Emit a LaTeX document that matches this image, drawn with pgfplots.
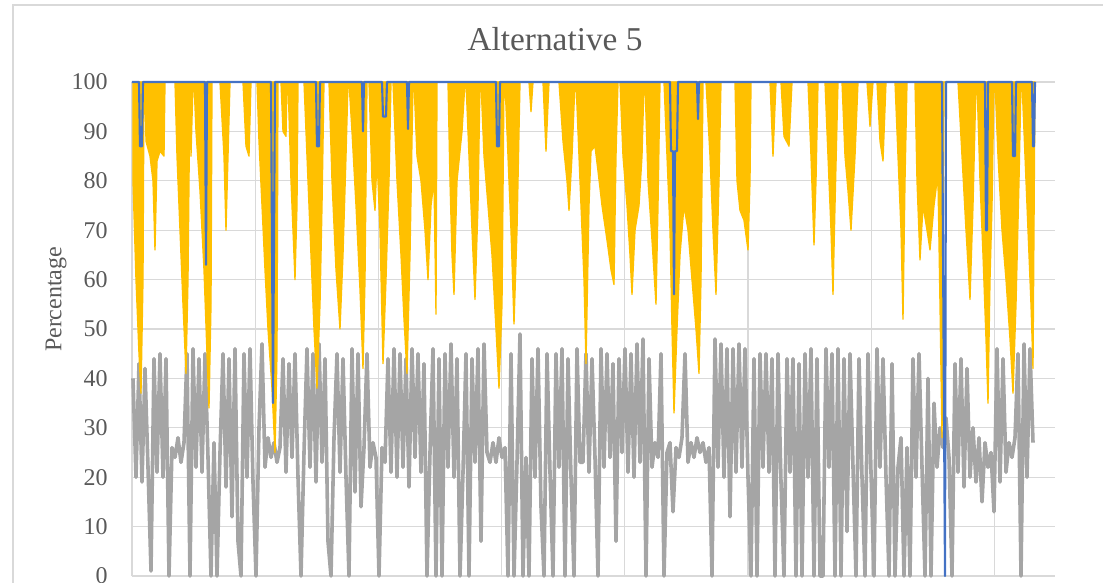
\documentclass[border=0pt]{standalone}
\usepackage{pgfplots}
\pgfplotsset{compat=1.18}
\usepackage{pgfplotstable}
\usepackage{fontspec}
\setmainfont{Liberation Serif}
\definecolor{cblue}{HTML}{4472C4}
\definecolor{cyel}{HTML}{FFC000}
\definecolor{cgray}{HTML}{A5A5A5}
\definecolor{cgrid}{HTML}{D9D9D9}
\definecolor{ctext}{HTML}{595959}

\pgfplotstableread[row sep=\\]{
y\\
40\\ 20\\ 43\\ 19\\ 42\\ 22\\ 1\\ 44\\ 21\\ 45\\
20\\ 44\\ 0\\ 26\\ 24\\ 28\\ 23\\ 27\\ 45\\ 0\\
46\\ 22\\ 44\\ 21\\ 45\\ 24\\ 0\\ 27\\ 0\\ 25\\
45\\ 18\\ 44\\ 12\\ 46\\ 7\\ 0\\ 45\\ 20\\ 46\\
19\\ 0\\ 30\\ 47\\ 22\\ 28\\ 24\\ 27\\ 23\\ 26\\
44\\ 21\\ 43\\ 24\\ 45\\ 20\\ 0\\ 25\\ 46\\ 22\\
45\\ 19\\ 47\\ 23\\ 44\\ 7\\ 0\\ 28\\ 45\\ 21\\
44\\ 20\\ 0\\ 46\\ 17\\ 45\\ 14\\ 26\\ 45\\ 22\\
27\\ 24\\ 0\\ 26\\ 23\\ 44\\ 21\\ 46\\ 20\\ 45\\
22\\ 44\\ 18\\ 46\\ 24\\ 45\\ 21\\ 43\\ 0\\ 25\\
46\\ 0\\ 44\\ 0\\ 45\\ 22\\ 47\\ 20\\ 44\\ 0\\
21\\ 45\\ 0\\ 44\\ 23\\ 46\\ 7\\ 47\\ 25\\ 23\\
27\\ 23\\ 28\\ 24\\ 26\\ 0\\ 45\\ 0\\ 23\\ 49\\
0\\ 24\\ 0\\ 44\\ 20\\ 46\\ 14\\ 0\\ 45\\ 21\\
0\\ 45\\ 22\\ 46\\ 0\\ 44\\ 20\\ 0\\ 46\\ 23\\
23\\ 45\\ 21\\ 44\\ 24\\ 0\\ 46\\ 22\\ 45\\ 24\\
43\\ 7\\ 44\\ 25\\ 46\\ 21\\ 45\\ 20\\ 47\\ 23\\
48\\ 0\\ 44\\ 22\\ 27\\ 24\\ 45\\ 0\\ 25\\ 27\\
13\\ 26\\ 24\\ 28\\ 45\\ 23\\ 27\\ 24\\ 28\\ 25\\
27\\ 23\\ 26\\ 0\\ 48\\ 22\\ 47\\ 20\\ 46\\ 12\\
46\\ 21\\ 47\\ 22\\ 46\\ 20\\ 0\\ 44\\ 0\\ 45\\
22\\ 45\\ 21\\ 44\\ 0\\ 45\\ 19\\ 0\\ 44\\ 21\\
44\\ 0\\ 43\\ 0\\ 45\\ 20\\ 46\\ 0\\ 44\\ 0\\
0\\ 46\\ 22\\ 45\\ 0\\ 46\\ 0\\ 44\\ 9\\ 45\\
22\\ 0\\ 44\\ 20\\ 0\\ 45\\ 21\\ 0\\ 46\\ 22\\
44\\ 20\\ 0\\ 43\\ 0\\ 22\\ 28\\ 0\\ 26\\ 0\\
44\\ 20\\ 45\\ 22\\ 0\\ 40\\ 0\\ 35\\ 22\\ 30\\
26\\ 32\\ 24\\ 0\\ 43\\ 21\\ 44\\ 18\\ 42\\ 20\\
30\\ 19\\ 28\\ 15\\ 27\\ 22\\ 25\\ 13\\ 46\\ 19\\
44\\ 21\\ 27\\ 24\\ 28\\ 45\\ 0\\ 47\\ 20\\ 46\\
27\\
}\graydata

\begin{document}
\begin{tikzpicture}[x=0.75pt,y=0.75pt]
\begin{axis}[
  at={(0,0)}, anchor=south west,
  scale only axis, width=692.25pt, height=370.5pt,
  xmin=132, xmax=1055, ymin=0, ymax=100,
  clip=false,
  axis line style={draw=none},
  major tick length=0pt,
  xtick={132,255.2,378.4,501.6,624.8,748,871.2,994.4},
  xticklabels={},
  ytick={0,10,...,100},
  grid=major,
  major grid style={cgrid, line width=0.9pt},
  /pgf/number format/assume math mode=true,
  yticklabel style={font=\fontsize{18}{20}\selectfont, text=ctext, anchor=east, inner sep=0pt, xshift=-18pt},
  ylabel={Percentage},
  ylabel style={font=\fontsize{18}{20}\selectfont, text=ctext, at={([xshift=-57pt]axis description cs:0,0.56)}, anchor=center},
]
\addplot[cgray, line width=2.7pt, line join=round] table[x expr=133+3*\coordindex, y index=0] {\graydata};

\addplot[draw=cyel, fill=cyel, line width=1pt, line join=round] coordinates {
(133,100)(133,80)(136,60)(139,45)(141,37)(143,60)(144,100)
(145,100)(146,88)(150,85)(153,80)(155,66)(157,84)(160,86)(164,85)(165,100)
(175,100)(177,85)(180,70)(183,55)(186,41)(188,60)(190,100)(191,85)(193,100)
(194,100)(196,90)(200,78)(204,62)(207,45)(209,34)(211,55)(212,100)
(220,100)(224,85)(226,70)(228,85)(230,100)
(243,100)(246,87)(249,85)(251,100)
(257,100)(259,88)(262,75)(265,62)(268,50)(272,38)(275,25)(277,45)(278,100)
(281,100)(283,90)(286,89)(287,100)
(288,100)(291,80)(295,60)(297,75)(298,100)
(304,100)(307,85)(311,65)(314,50)(317,38)(320,55)(322,75)(324,100)
(329,100)(332,80)(336,62)(340,50)(343,65)(346,85)(348,100)
(349,100)(352,90)(356,75)(360,58)(363,42)(365,60)(367,100)
(369,100)(372,80)(375,74)(377,85)(380,70)(383,43)(386,60)(389,80)(391,100)
(393,100)(397,80)(401,65)(404,52)(407,41)(410,65)(413,100)
(414,100)(417,85)(421,80)(425,70)(428,60)(431,75)(434,80)(436,53)(437,100)
(448,100)(450,80)(452,65)(454,57)(457,80)(462,90)(465,100)
(466,100)(469,85)(472,70)(475,56)(478,75)(480,100)
(481,100)(484,85)(488,75)(492,65)(496,50)(499,38)(502,55)(504,100)
(505,100)(508,85)(511,70)(514,51)(517,70)(520,100)
(529,100)(531,94)(533,100)
(543,100)(546,86)(549,100)
(559,100)(563,88)(567,80)(569,74)(572,85)(575,100)
(576,100)(580,80)(584,60)(586,43)(589,75)(591,86)(595,87)(598,82)(602,75)(607,68)(611,62)(614,59)(616,85)(618,100)
(620,100)(623,85)(627,75)(630,65)(632,57)(635,70)(639,75)(642,85)(644,100)
(645,100)(648,80)(652,68)(656,55)(658,75)(660,100)
(664,100)(667,85)(670,70)(672,50)(674,33)(677,50)(680,65)(684,75)(688,70)(692,60)(696,50)(699,41)(701,60)(703,100)
(706,100)(710,85)(713,70)(716,57)(719,80)(721,100)
(735,100)(737,80)(740,74)(744,72)(748,66)(750,80)(751,100)
(770,100)(773,85)(776,100)
(781,100)(784,89)(789,87)(792,100)
(808,100)(811,85)(814,67)(816,80)(818,100)
(825,100)(828,85)(831,70)(833,57)(835,75)(838,100)
(842,100)(845,85)(848,78)(851,70)(855,85)(858,100)
(867,100)(870,91)(873,100)
(877,100)(880,88)(883,84)(886,100)
(895,100)(898,85)(901,70)(903,52)(905,80)(907,100)
(915,100)(917,80)(920,64)(923,75)(927,70)(930,66)(934,75)(937,80)(938,80)(940,55)(942,28)(943,60)(944,100)
(958,100)(962,85)(966,70)(970,56)(973,75)(976,100)
(977,100)(980,80)(983,65)(986,48)(988,35)(990,60)(992,75)(994,100)
(995,100)(998,85)(1002,70)(1006,60)(1010,48)(1013,37)(1016,55)(1019,80)(1021,100)
(1022,100)(1025,85)(1028,70)(1031,55)(1033,42)(1035,100)
} -- cycle;

\addplot[cblue, line width=1.6pt, line join=round] coordinates {
(132,100)(139,100)(140,87)(142,87)(143,100)(205,100)(206,63)(207,100)
(271,100)(273,35)(275,100)(316,100)(317,87)(319,87)(320,100)
(362,100)(363,90)(364,100)(382,100)(383,93)(386,93)(387,100)
(407,100)(408,90.5)(409,100)(496,100)(497,87)(499,87)(500,100)
(670,100)(671,86)(673,86)(674,57)(675,86)(677,86)(678,100)
(697,100)(698,92.5)(699,100)(942,100)(945,0)(946,100)
(985,100)(986,70)(987,70)(988,100)(1012,100)(1013,85)(1015,85)(1016,100)
(1032,100)(1033,87)(1034,87)(1035,100)
};
\end{axis}
\node[text=ctext, font=\fontsize{25}{28}\selectfont] at (423,537) {Alternative 5};
\draw[cgrid, line width=1.2pt] (-119,-20) -- (-119,571) -- (990,571);
\pgfresetboundingbox
\path[use as bounding box] (-132,-6) rectangle (971,576);
\end{tikzpicture}
\end{document}
